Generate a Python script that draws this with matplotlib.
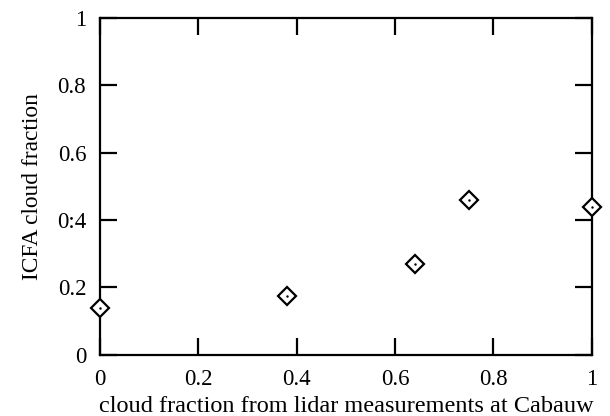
import matplotlib.pyplot as plt

plt.rcParams['font.family'] = ['Liberation Serif', 'DejaVu Serif']

# lidar cloud fraction vs ICFA cloud fraction
lidar_frac = [0.0, 0.38, 0.64, 0.75, 1.0]
icfa_frac = [0.14, 0.175, 0.27, 0.46, 0.44]

xticks = [0, 0.2, 0.4, 0.6, 0.8, 1]
xticklabels = ['0', '0.2', '0.4', '0.6', '0.8', '1']
yticks = [0, 0.2, 0.4, 0.6, 0.8, 1]
yticklabels = ['0', '0.2', '0:4', '0.6', '0.8', '1']

fig = plt.figure(figsize=(6.1, 4.16), dpi=100)
ax = fig.add_axes([0.164, 0.147, 0.806, 0.81])

ax.plot(lidar_frac, icfa_frac, linestyle='none', marker='D', markersize=9.5,
        markerfacecolor='white', markeredgecolor='black', markeredgewidth=1.6,
        clip_on=False, zorder=3)
ax.plot(lidar_frac, icfa_frac, linestyle='none', marker='.', markersize=1.5,
        color='black', clip_on=False, zorder=4)

ax.set_xlim(0, 1)
ax.set_ylim(0, 1)
ax.set_xticks(xticks)
ax.set_xticklabels(xticklabels)
ax.set_yticks(yticks)
ax.set_yticklabels(yticklabels)

ax.tick_params(direction='in', length=12, width=1.6, top=True, right=True)
ax.tick_params(axis='x', pad=10, labelsize=16.5)
ax.tick_params(axis='y', pad=10, labelsize=16.5)
for sp in ax.spines.values():
    sp.set_linewidth(1.6)

ax.set_xlabel('cloud fraction from lidar measurements at Cabauw', fontsize=17.5)
ax.xaxis.set_label_coords(0.5, -0.122)
ax.set_ylabel('ICFA cloud fraction', fontsize=16.8, labelpad=10)

fig.savefig('out.png', dpi=100)
